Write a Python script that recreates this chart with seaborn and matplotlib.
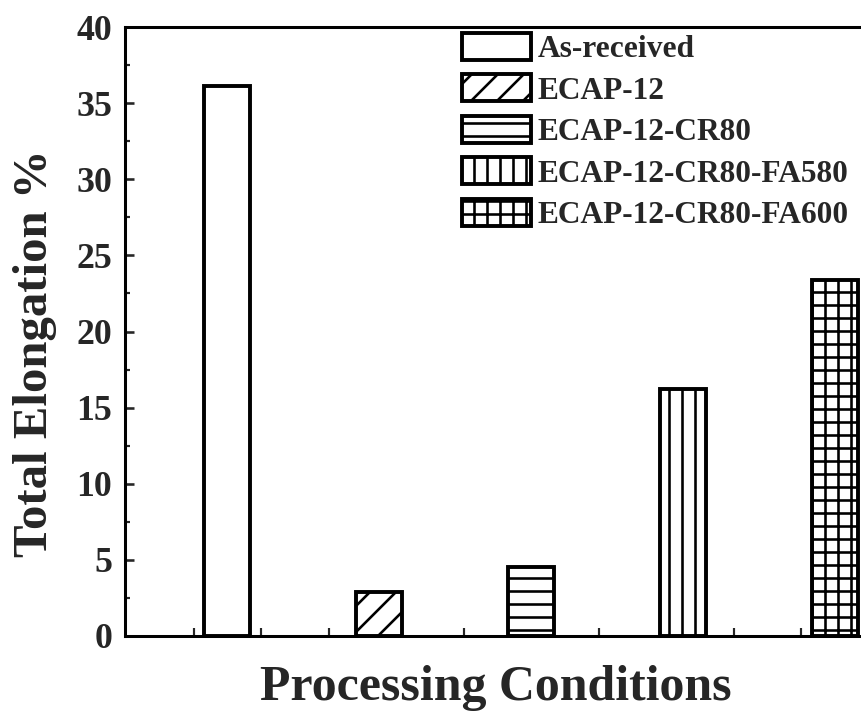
import numpy as np
import pandas as pd
import matplotlib
matplotlib.use("Agg")
import matplotlib.pyplot as plt
import seaborn as sns

categories = ["As-received", "ECAP-12", "ECAP-12-CR80",
              "ECAP-12-CR80-FA580", "ECAP-12-CR80-FA600"]
elongation = [36.1, 2.9, 4.5, 16.2, 23.4]
hatches = ["", "/", "-", "|", "+"]
yticks = [0, 5, 10, 15, 20, 25, 30, 35, 40]

sns.set_theme(style="ticks")
plt.rcParams["font.family"] = ["Liberation Serif", "DejaVu Serif"]
plt.rcParams["font.weight"] = "bold"
plt.rcParams["hatch.linewidth"] = 2.4
plt.rcParams["hatch.color"] = "black"

DPI = 78
fig = plt.figure(figsize=(861 / DPI, 711 / DPI), dpi=DPI)
ax = fig.add_axes([125 / 861, 75 / 711, 0.8776, 609 / 711])

df = pd.DataFrame({"cond": categories, "val": elongation})
sns.barplot(data=df, x="cond", y="val", hue="cond", order=categories,
            hue_order=categories, palette=["white"] * 5, width=0.3,
            edgecolor="black", linewidth=3.6, legend=False, ax=ax,
            saturation=1)

bars = [c.patches[0] for c in ax.containers]
for b, h in zip(bars, hatches):
    b.set_hatch(h)
    b.set_facecolor("white")
    b.set_edgecolor("black")

ax.set_xlim(-0.671, 4.3)
ax.set_ylim(0, 40)
ax.set_yticks(yticks)
ax.set_yticks(np.arange(0, 40.1, 2.5), minor=True)
ax.set_xticks([])
ax.set_xticks(np.arange(-0.217, 4.3, 0.444), minor=True)
ax.tick_params(axis="y", which="major", direction="in", length=8, width=2.4,
               labelsize=33, pad=12)
ax.tick_params(axis="y", which="minor", direction="in", length=5, width=2.0)
ax.tick_params(axis="x", which="minor", direction="in", length=7, width=2.0,
               labelbottom=False)
ax.tick_params(axis="x", which="major", length=0, labelbottom=False)
for lab in ax.get_yticklabels():
    lab.set_fontweight("bold")

for s in ["left", "bottom", "top", "right"]:
    ax.spines[s].set_linewidth(2.8)
    ax.spines[s].set_color("black")

ax.set_xlabel("Processing Conditions", fontsize=46, fontweight="bold")
ax.set_ylabel("Total Elongation %", fontsize=45, fontweight="bold")
ax.xaxis.set_label_coords((496 - 125) / 755.6, (636 - 665) / 609)
ax.xaxis.label.set_va("top")
ax.yaxis.set_label_coords((57 - 125) / 755.6, 0.464)

leg = ax.legend(bars, categories, loc="upper left",
                bbox_to_anchor=(462 / 861, 1 - 33 / 711),
                bbox_transform=fig.transFigure, frameon=False,
                prop={"family": "Liberation Serif", "weight": "bold", "size": 29},
                handlelength=2.2, handleheight=0.95, handletextpad=0.2,
                labelspacing=0.32, borderpad=0, borderaxespad=0)
for h in leg.legend_handles:
    h.set_linewidth(3.6)

fig.savefig("out.png", dpi=DPI)
